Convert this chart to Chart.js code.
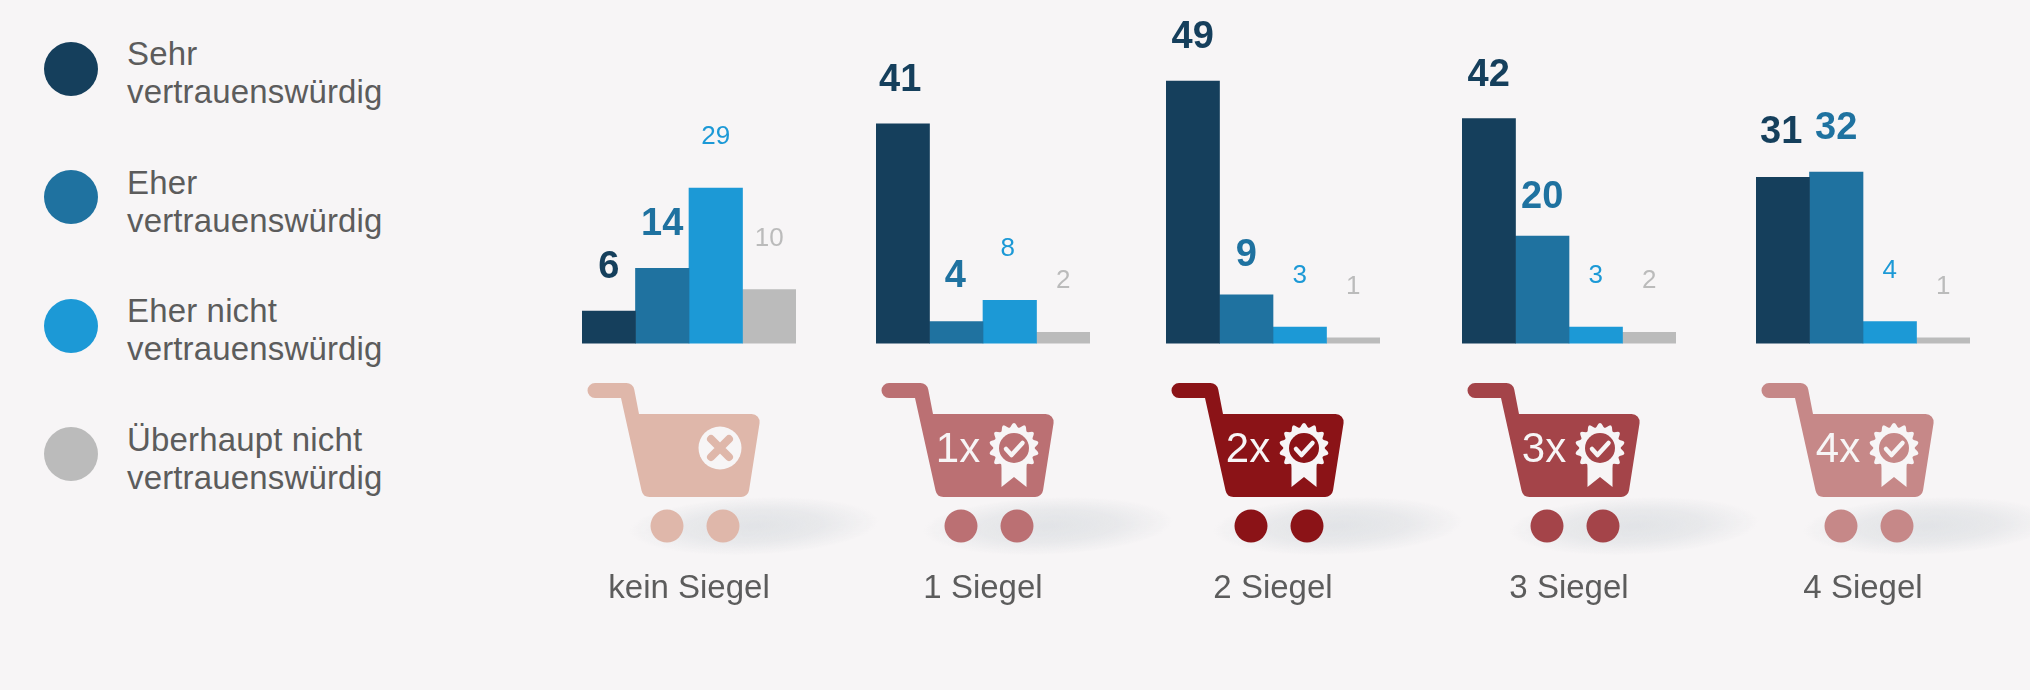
<!DOCTYPE html>
<html>
<head>
<meta charset="utf-8">
<title>Vertrauen nach Siegeln</title>
<script src="https://cdn.jsdelivr.net/npm/chart.js@4"></script>
<style>
    html, body { margin: 0; padding: 0; width: 2030px; height: 690px; overflow: hidden; background: #f7f5f6; }
    canvas { position: absolute; top: 0; }
    .key { position: absolute; left: 44px; width: 54px; height: 54px; border-radius: 50%; }
    .keytext { position: absolute; left: 127px; font: 33px/38px "Liberation Sans", sans-serif; letter-spacing: 0.15px; color: #5c5c5c; white-space: pre; }
</style>
</head>
<body>
<script>
// values
var categories = ["kein Siegel", "1 Siegel", "2 Siegel", "3 Siegel", "4 Siegel"];
var sehr = [6, 41, 49, 42, 31];
var eher = [14, 4, 9, 20, 32];
var eherNicht = [29, 8, 3, 3, 4];
var garNicht = [10, 2, 1, 2, 1];
var seriesNames = [
    "Sehr\nvertrauenswürdig",
    "Eher\nvertrauenswürdig",
    "Eher nicht\nvertrauenswürdig",
    "Überhaupt nicht\nvertrauenswürdig"
];
var badgeLabels = ["", "1x", "2x", "3x", "4x"];

var allSeries = [sehr, eher, eherNicht, garNicht];
var seriesColors = ["#153f5c", "#1f72a0", "#1c99d6", "#bbbbbb"];
var cartColors = ["#dfb7aa", "#bb7073", "#8b1317", "#a44449", "#c68888"];
var background = "#f7f5f6";
var groupLeft = [582, 876, 1166, 1462, 1756];
var GROUP_WIDTH = 214;
var CART_ROOM = 85;
// the numbers were placed by hand in the original: [dx, dy] by "group-series"
var labelNudges = {
    "1-0": [-2.5, 0],
    "1-1": [-1, -2],
    "1-2": [-2, 0],
    "2-1": [0, 4],
    "3-1": [0, 5],
    "4-0": [-1.5, -1]
};

function addLegend() {
    var tops = [42, 170, 299, 427];
    var textTops = [35, 164, 292, 421];
    for (var i = 0; i < seriesNames.length; i++) {
        var dot = document.createElement("div");
        dot.className = "key";
        dot.style.top = tops[i] + "px";
        dot.style.background = seriesColors[i];
        document.body.appendChild(dot);
        var text = document.createElement("div");
        text.className = "keytext";
        text.style.top = textTops[i] + "px";
        text.textContent = seriesNames[i];
        document.body.appendChild(text);
    }
}

// numbers above the bars: first two series big and bold, the others small
var valueLabels = {
    id: "valueLabels",
    afterDatasetsDraw: function (chart) {
        var ctx = chart.ctx;
        var idx = chart.options.plugins.cartIcon.index;
        ctx.save();
        ctx.textAlign = "center";
        ctx.textBaseline = "alphabetic";
        chart.data.datasets.forEach(function (set, i) {
            var bar = chart.getDatasetMeta(i).data[0];
            var big = i < 2;
            var nudge = labelNudges[idx + "-" + i] || [0, 0];
            ctx.font = (big ? "bold 38px" : "26px") + ' "Liberation Sans"';
            ctx.fillStyle = seriesColors[i];
            ctx.fillText(set.data[0], bar.x + nudge[0], bar.y - (big ? 33 : 44) + nudge[1]);
        });
        ctx.restore();
    }
};

function drawShadow(ctx, c) {
    ctx.save();
    ctx.translate(c + 65, 526);
    ctx.rotate(-0.04);
    ctx.scale(1, 0.23);
    var grad = ctx.createRadialGradient(0, 0, 0, 0, 0, 125);
    grad.addColorStop(0, "rgba(214, 218, 222, 0.65)");
    grad.addColorStop(0.55, "rgba(214, 218, 222, 0.45)");
    grad.addColorStop(1, "rgba(214, 218, 222, 0)");
    ctx.fillStyle = grad;
    ctx.beginPath();
    ctx.arc(0, 0, 125, 0, Math.PI * 2);
    ctx.fill();
    ctx.restore();
}

function drawBasket(ctx, c) {
    ctx.beginPath();
    ctx.moveTo(c - 94, 383);
    ctx.arcTo(c - 56, 383, c - 50, 414, 8);
    ctx.lineTo(c - 50, 414);
    ctx.arcTo(c + 72, 414, c + 59, 497, 8);
    ctx.arcTo(c + 59, 497, c - 46, 497, 8);
    ctx.arcTo(c - 46, 497, c - 68, 398, 8);
    ctx.lineTo(c - 68, 398);
    ctx.lineTo(c - 94, 398);
    ctx.arc(c - 94, 390.5, 7.5, Math.PI / 2, Math.PI * 1.5);
    ctx.closePath();
    ctx.fill();
}

function drawCross(ctx, c, color) {
    var x = c + 31, y = 448;
    ctx.fillStyle = background;
    ctx.beginPath();
    ctx.arc(x, y, 21.5, 0, Math.PI * 2);
    ctx.fill();
    ctx.strokeStyle = color;
    ctx.lineWidth = 8;
    ctx.lineCap = "round";
    ctx.beginPath();
    ctx.moveTo(x - 9, y - 9);
    ctx.lineTo(x + 9, y + 9);
    ctx.moveTo(x + 9, y - 9);
    ctx.lineTo(x - 9, y + 9);
    ctx.stroke();
}

function drawSeal(ctx, c, color) {
    var x = c + 31, y = 448;
    ctx.fillStyle = background;
    ctx.beginPath();
    ctx.moveTo(x - 12.5, y + 10);
    ctx.lineTo(x + 12.5, y + 10);
    ctx.lineTo(x + 12.5, y + 39);
    ctx.lineTo(x, y + 29);
    ctx.lineTo(x - 12.5, y + 39);
    ctx.closePath();
    ctx.fill();
    ctx.beginPath();
    for (var a = 0; a <= 360; a += 3) {
        var r = 22.8 + 2.2 * Math.cos(a * 14 * Math.PI / 180);
        var px = x + r * Math.sin(a * Math.PI / 180);
        var py = y - r * Math.cos(a * Math.PI / 180);
        if (a === 0)
            ctx.moveTo(px, py);
        else
            ctx.lineTo(px, py);
    }
    ctx.fill();
    ctx.fillStyle = color;
    ctx.beginPath();
    ctx.arc(x, y, 15, 0, Math.PI * 2);
    ctx.fill();
    ctx.strokeStyle = background;
    ctx.lineWidth = 4.5;
    ctx.lineCap = "round";
    ctx.lineJoin = "round";
    ctx.beginPath();
    ctx.moveTo(x - 8, y + 1);
    ctx.lineTo(x - 2.5, y + 7);
    ctx.lineTo(x + 8.5, y - 5);
    ctx.stroke();
}

// the cart under every group, centred on the group through its x scale
var cartIcon = {
    id: "cartIcon",
    afterDraw: function (chart) {
        var ctx = chart.ctx;
        var idx = chart.options.plugins.cartIcon.index;
        var color = cartColors[idx];
        var c = chart.scales.x.getPixelForValue(0);
        ctx.save();
        drawShadow(ctx, c);
        ctx.fillStyle = color;
        drawBasket(ctx, c);
        ctx.beginPath();
        ctx.arc(c - 22, 526, 16.5, 0, Math.PI * 2);
        ctx.arc(c + 34, 526, 16.5, 0, Math.PI * 2);
        ctx.fill();
        if (idx === 0) {
            drawCross(ctx, c, color);
        } else {
            drawSeal(ctx, c, color);
            ctx.fillStyle = background;
            ctx.font = '42px "Liberation Sans"';
            ctx.textAlign = "center";
            ctx.fillText(badgeLabels[idx], c - 25, 462);
        }
        ctx.restore();
    }
};

function addGroup(idx) {
    var canvas = document.createElement("canvas");
    canvas.width = GROUP_WIDTH + CART_ROOM;
    canvas.height = 690;
    canvas.style.left = groupLeft[idx] + "px";
    document.body.appendChild(canvas);

    new Chart(canvas.getContext("2d"), {
        type: "bar",
        plugins: [cartIcon, valueLabels],
        data: {
            labels: [categories[idx]],
            datasets: allSeries.map(function (values, i) {
                return {
                    label: seriesNames[i].replace("\n", " "),
                    data: [values[idx]],
                    backgroundColor: seriesColors[i],
                    barPercentage: 1,
                    categoryPercentage: 1
                };
            })
        },
        options: {
            responsive: false,
            animation: false,
            layout: { padding: { top: 0, left: 0, right: CART_ROOM, bottom: 75.8 } },
            plugins: {
                legend: { display: false },
                tooltip: { enabled: false },
                cartIcon: { index: idx }
            },
            scales: {
                x: {
                    grid: { display: false, drawTicks: false },
                    border: { display: false },
                    ticks: {
                        padding: 5.9,
                        maxRotation: 0,
                        color: "#5c5c5c",
                        font: { family: "Liberation Sans", size: 33 }
                    }
                },
                // the room below zero holds the cart between bars and label
                y: {
                    display: false,
                    min: -41.1,
                    max: 64.17
                }
            }
        }
    });
}

addLegend();
for (var i = 0; i < categories.length; i++)
    addGroup(i);
</script>
</body>
</html>
